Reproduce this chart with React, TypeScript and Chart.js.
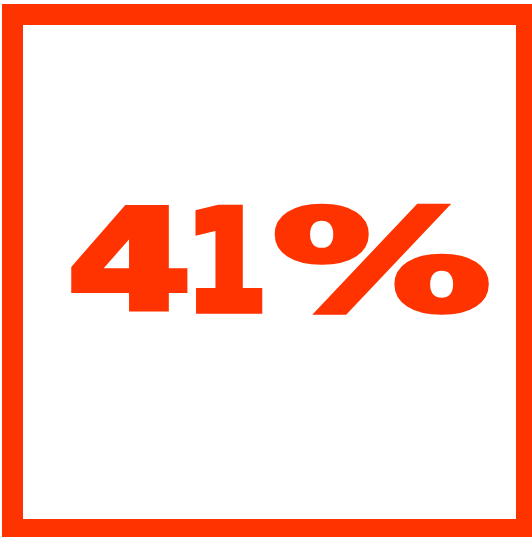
import React, { useEffect, useRef } from "react";
import { Chart, registerables } from "chart.js";

Chart.register(...registerables);

const categories = ["Share", "Rest"];
const shareValues = [41, 59];
const valueSuffix = ["%"];

const ACCENT = "#FF3300";

// glyph boxes [left, top, right, bottom] for each character of the label
const glyphBoxes = [
  [71, 205, 187, 313],
  [195, 205, 263, 313],
  [275, 202, 490, 315],
];

const statPlugin = {
  id: "statPlugin",
  afterDraw(chart: any) {
    const ctx = chart.ctx as CanvasRenderingContext2D;
    const value = chart.data.datasets[0].data[0];
    const label = `${value}${valueSuffix[0]}`;
    ctx.save();
    ctx.fillStyle = ACCENT;
    ctx.strokeStyle = ACCENT;
    const outerL = 2, outerT = 4, outerR = 540, outerB = 541;
    const innerL = 23, innerT = 25, innerR = 516, innerB = 519;
    ctx.fillRect(outerL, outerT, outerR - outerL, innerT - outerT);
    ctx.fillRect(outerL, innerB, outerR - outerL, outerB - innerB);
    ctx.fillRect(outerL, outerT, innerL - outerL, outerB - outerT);
    ctx.fillRect(innerR, outerT, outerR - innerR, outerB - outerT);
    const size = 100;
    const weight = 7;
    ctx.font = `bold ${size}px "DejaVu Sans", sans-serif`;
    ctx.textBaseline = "alphabetic";
    ctx.textAlign = "left";
    ctx.lineJoin = "miter";
    const chars = Array.from(label);
    chars.forEach((ch, i) => {
      const box = glyphBoxes[Math.min(i, glyphBoxes.length - 1)];
      const l = box[0] + weight / 2, t = box[1] + weight / 2;
      const r = box[2] - weight / 2, b = box[3] - weight / 2;
      const m = ctx.measureText(ch);
      const w = m.actualBoundingBoxLeft + m.actualBoundingBoxRight;
      const h = m.actualBoundingBoxAscent + m.actualBoundingBoxDescent;
      const sx = (r - l) / w, sy = (b - t) / h;
      ctx.save();
      ctx.translate(l, t);
      ctx.scale(sx, sy);
      ctx.lineWidth = weight / Math.sqrt(sx * sy);
      ctx.fillText(ch, m.actualBoundingBoxLeft, m.actualBoundingBoxAscent);
      ctx.strokeText(ch, m.actualBoundingBoxLeft, m.actualBoundingBoxAscent);
      ctx.restore();
    });
    ctx.restore();
  },
};

export default function App() {
  const ref = useRef<HTMLCanvasElement | null>(null);
  useEffect(() => {
    document.body.style.margin = "0";
    if (!ref.current) return;
    const chart = new Chart(ref.current, {
      type: "doughnut",
      data: {
        labels: categories,
        datasets: [
          {
            data: shareValues,
            backgroundColor: ["rgba(0,0,0,0)", "rgba(0,0,0,0)"],
            borderWidth: 0,
          },
        ],
      },
      options: {
        animation: false,
        responsive: false,
        events: [],
        plugins: {
          legend: { display: false },
          tooltip: { enabled: false },
        },
      },
      plugins: [statPlugin],
    });
    return () => chart.destroy();
  }, []);
  return (
    <div style={{ position: "absolute", left: 0, top: 0, width: 532, height: 537, background: "#fff" }}>
      <canvas ref={ref} width={532} height={537} style={{ display: "block", width: 532, height: 537 }} />
    </div>
  );
}
